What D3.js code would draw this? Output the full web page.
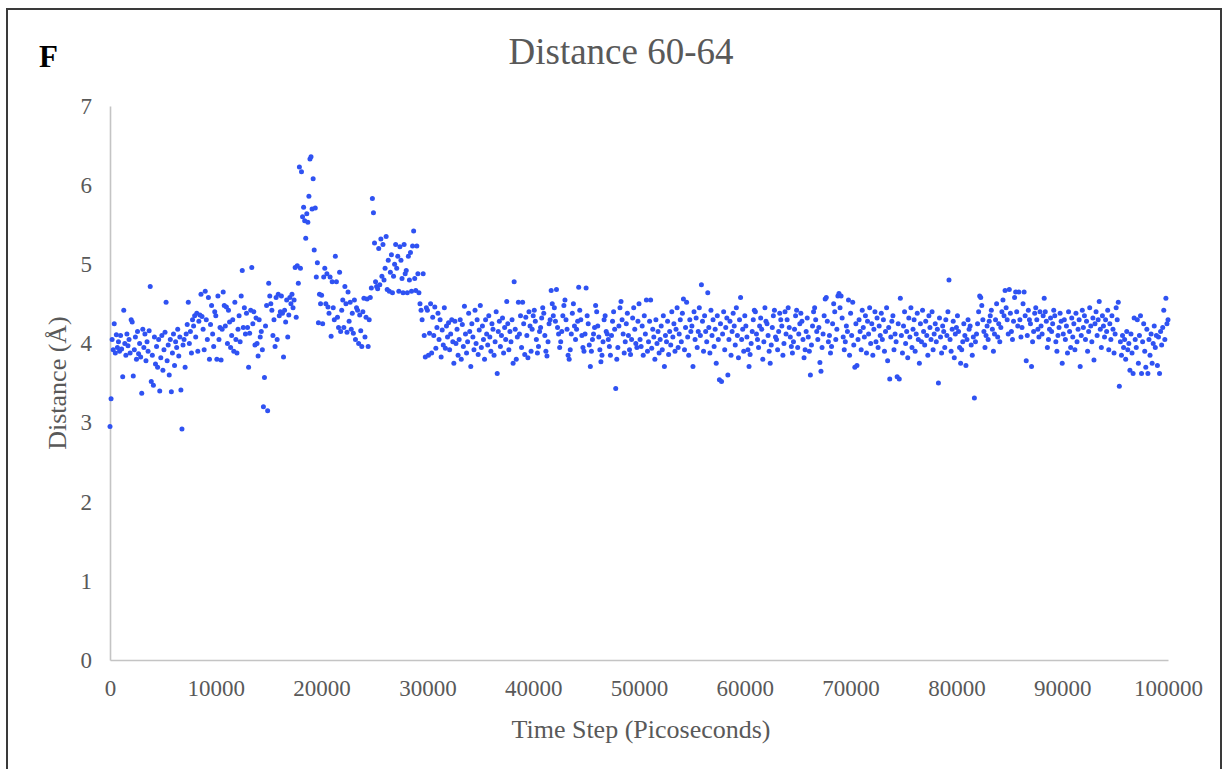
<!DOCTYPE html>
<html>
<head>
<meta charset="utf-8">
<script src="https://cdn.jsdelivr.net/npm/d3@7"></script>
<style>
  body { margin: 0; background: #fff; }
  text { font-family: "Liberation Serif", "Times New Roman", serif; }
</style>
</head>
<body>
<div id="chart"></div>
<script>
// distance samples, one every 100 ps, grouped per 10000 ps
var dist00 = [
  2.95,3.30,4.05,3.92,4.25,3.88,4.11,3.95,4.02,3.90,
  4.10,3.93,3.58,4.42,4.00,3.85,4.12,3.97,4.05,3.88,
  4.30,4.27,3.59,3.92,4.08,3.80,4.15,3.87,4.00,3.83,
  3.37,4.18,3.95,4.12,3.78,4.02,3.90,4.16,4.72,3.52,
  3.85,3.47,4.08,3.74,3.96,3.70,4.05,3.40,3.82,4.10,
  3.66,3.92,4.14,4.52,3.78,3.98,3.60,4.05,3.39,3.88,
  4.12,3.72,4.02,3.95,4.18,3.84,4.08,3.41,2.92,3.98,
  4.05,3.70,4.12,4.24,4.52,4.00,4.15,3.88,4.30,4.22,
  4.35,4.08,4.38,3.90,4.28,4.36,4.62,4.34,4.18,3.92,
  4.66,4.30,4.05,4.58,3.80,4.24,4.48,4.12,3.96,4.40];
var dist10 = [
  4.35,3.80,4.60,4.05,4.20,3.79,4.18,4.65,4.48,4.22,
  4.46,4.00,4.42,4.27,3.95,4.10,4.30,3.90,4.52,4.05,
  3.88,4.18,4.35,4.02,4.60,4.92,4.20,4.45,4.12,4.38,
  4.20,3.70,4.13,4.42,4.96,4.25,4.40,3.98,4.32,4.00,
  3.84,4.30,4.08,4.15,3.92,3.20,3.57,4.22,4.48,3.15,
  4.76,4.60,4.50,4.42,4.10,4.30,3.96,4.58,4.05,4.62,
  4.35,4.40,4.60,4.38,3.83,4.42,4.27,4.55,4.08,4.36,
  4.58,4.50,4.62,4.45,4.55,4.96,4.33,4.98,4.76,6.23,
  4.95,6.17,5.60,5.72,5.55,5.33,5.64,5.53,5.86,6.33,
  6.36,5.70,6.08,5.18,5.71,4.84,5.02,4.26,4.62,4.50];
var dist20 = [
  4.61,4.25,4.84,4.95,4.50,4.88,4.46,4.38,4.84,4.09,
  4.78,4.45,4.30,5.10,4.78,4.33,4.20,4.90,4.15,4.42,
  4.55,4.20,4.72,4.50,4.14,4.65,4.28,4.52,4.18,4.38,
  4.13,4.55,4.05,4.45,4.42,4.00,4.36,4.16,3.96,4.40,
  4.57,4.08,4.33,4.56,3.96,4.30,4.58,4.70,5.83,5.65,
  5.27,4.78,4.72,4.69,5.20,4.74,5.32,4.85,5.25,4.80,
  4.95,5.35,4.68,5.05,4.66,4.90,5.12,4.64,4.85,5.00,
  5.25,4.95,5.10,4.66,5.22,5.05,4.82,4.64,5.25,4.88,
  4.92,4.64,5.10,4.80,5.15,4.66,5.23,5.42,4.82,4.67,
  5.23,4.88,4.64,4.50,4.42,4.30,4.88,4.10,3.83,4.45];
var dist30 = [
  4.42,3.85,4.13,4.50,3.88,4.33,4.10,4.46,3.94,4.20,
  4.38,4.05,4.30,3.83,4.17,3.98,4.45,3.94,4.22,4.08,
  4.26,3.92,4.12,4.30,4.02,3.75,4.28,4.00,4.18,3.85,
  4.05,4.30,3.80,4.24,3.96,4.47,4.12,3.88,4.02,4.38,
  4.15,3.71,4.25,4.08,3.92,4.42,4.00,4.30,3.86,4.17,
  4.48,3.95,4.22,4.05,3.80,4.30,4.12,3.98,4.35,4.08,
  3.90,4.25,4.18,3.85,4.02,4.40,3.62,4.15,4.28,3.96,
  4.10,4.32,3.88,4.20,4.05,4.53,4.25,3.92,4.15,4.02,
  4.30,3.75,4.78,4.18,3.80,4.08,4.52,4.12,4.35,3.95,
  4.52,4.25,3.86,4.33,4.10,3.82,4.40,4.22,3.90,4.18];
var dist40 = [
  4.35,4.42,4.28,4.05,3.88,3.96,4.15,4.20,4.32,4.45,
  4.38,4.10,3.90,3.84,4.02,4.25,4.30,4.67,4.50,4.35,
  4.45,4.28,4.68,4.20,4.12,3.95,4.02,4.15,4.35,4.48,
  4.55,4.30,4.18,3.85,3.80,3.92,4.12,4.38,4.50,4.22,
  4.05,4.18,4.28,4.71,4.42,4.30,4.10,3.95,3.90,4.12,
  4.70,4.35,4.25,3.98,3.71,3.90,4.05,4.12,4.20,4.48,
  4.40,4.22,4.08,3.92,3.77,3.85,4.02,4.30,4.35,4.15,
  4.12,4.05,3.96,3.85,4.10,4.28,4.40,4.18,3.43,3.80,
  3.95,4.22,4.45,4.53,4.30,4.12,3.88,4.02,4.25,4.38,
  4.10,3.92,3.86,4.05,4.32,4.45,4.18,4.00,3.95,4.28];
var dist50 = [
  4.50,4.05,3.96,4.22,3.85,4.35,4.12,4.55,3.90,4.02,
  4.28,4.55,3.94,4.18,4.08,3.80,4.30,4.00,4.15,3.88,
  4.05,4.22,3.92,4.35,3.71,4.10,4.02,4.28,3.86,4.15,
  3.98,4.40,4.08,4.25,3.90,4.18,4.45,3.95,4.12,4.30,
  4.02,4.38,4.56,3.92,4.20,4.52,4.08,3.85,4.30,4.15,
  4.22,3.71,4.40,4.05,4.32,3.95,4.15,4.45,4.10,4.74,
  4.28,3.90,4.35,4.15,4.02,4.64,4.20,3.88,4.42,4.10,
  4.30,3.96,4.18,3.75,4.35,4.05,3.54,4.25,3.52,4.12,
  4.40,3.92,4.20,4.32,3.60,4.05,4.28,3.85,4.15,4.38,
  4.22,3.98,4.45,4.10,3.82,4.30,4.58,4.05,4.18,3.90];
var dist60 = [
  4.35,4.22,4.08,3.92,3.71,3.86,4.00,4.15,4.30,4.42,
  4.40,4.12,4.05,3.95,4.22,4.32,4.18,3.80,4.02,4.45,
  4.28,4.25,4.10,3.90,3.75,3.98,4.20,4.35,4.42,4.08,
  4.05,3.92,4.15,4.38,4.30,4.22,3.85,4.00,4.40,4.12,
  4.30,4.45,4.20,4.08,3.96,3.88,4.02,4.18,4.35,4.42,
  3.95,4.12,4.25,4.38,4.28,4.05,3.82,3.92,4.15,4.32,
  4.08,3.90,3.60,3.98,4.22,4.40,4.45,4.30,4.15,4.05,
  4.20,3.76,3.65,3.95,4.12,4.35,4.56,4.58,4.28,4.02,
  4.10,3.88,3.96,4.25,4.50,4.40,4.05,4.18,4.60,4.63,
  4.45,4.60,4.32,4.08,3.92,4.02,4.22,4.15,4.55,3.85];
var dist70 = [
  4.38,4.10,4.52,3.98,3.70,4.25,3.72,4.05,4.30,4.15,
  3.92,4.42,4.20,4.08,4.35,3.88,4.28,4.12,4.45,4.00,
  4.25,3.85,4.18,4.40,4.02,4.32,3.95,4.22,4.10,4.38,
  4.05,4.30,3.90,4.15,4.45,3.78,4.20,3.55,4.08,4.28,
  4.35,3.92,4.12,4.02,3.58,4.25,3.55,4.57,4.10,3.88,
  4.22,4.40,4.00,4.15,3.82,4.32,4.08,4.45,3.95,4.18,
  4.30,3.90,4.12,4.38,4.05,3.75,4.25,4.02,4.42,4.15,
  3.98,4.28,4.10,3.85,4.35,4.20,4.05,4.40,3.92,4.12,
  4.25,4.02,4.18,3.50,4.32,4.08,3.88,4.22,4.15,3.95,
  4.30,4.10,4.40,4.80,4.05,3.90,4.18,4.28,3.82,4.12];
var dist80 = [
  4.20,4.35,4.15,3.95,3.75,3.92,4.02,4.25,4.10,3.72,
  4.05,4.30,4.18,4.22,3.98,3.85,4.08,3.31,4.02,4.12,
  4.25,4.40,4.60,4.58,4.48,4.30,4.15,3.95,4.10,4.22,
  4.05,4.28,4.35,4.42,4.18,3.90,4.12,4.30,4.50,4.08,
  4.25,4.02,4.20,4.40,4.55,4.35,4.67,4.45,4.30,4.12,
  4.68,4.38,4.15,4.05,4.28,4.58,4.65,4.40,4.22,4.65,
  4.30,4.08,4.20,4.50,4.65,4.35,3.78,4.10,4.42,4.30,
  4.25,3.71,4.02,4.15,4.38,4.45,4.30,4.18,4.08,4.40,
  4.22,4.12,4.35,4.57,4.40,4.28,3.95,4.05,4.18,4.32,
  4.15,4.25,4.42,4.35,4.02,3.90,4.10,4.20,4.38,4.28];
var dist90 = [
  3.75,4.12,4.30,4.05,4.22,3.88,4.40,4.15,3.95,4.32,
  4.08,4.25,3.92,4.38,4.02,4.18,4.30,3.71,4.10,4.42,
  4.20,4.35,4.05,4.28,3.90,4.15,4.45,4.22,4.02,4.32,
  3.79,4.25,4.40,4.10,4.30,4.53,4.18,3.95,4.35,4.22,
  4.08,4.30,4.15,4.42,3.92,4.25,4.05,4.35,4.18,3.88,
  4.12,4.45,4.30,4.52,3.46,4.02,3.85,4.10,3.95,4.05,
  3.80,4.15,3.92,4.00,3.66,4.12,3.88,3.62,4.32,4.05,
  3.95,4.30,3.75,4.10,4.35,3.62,4.02,4.25,3.90,3.70,
  4.18,3.62,4.05,3.85,4.12,3.75,4.00,4.22,3.95,4.10,
  3.72,4.08,3.62,4.15,3.98,4.20,4.42,4.05,4.57,4.25];
var distLast = [4.30];

var sampleInterval = 100;
var xTicks = [0, 10000, 20000, 30000, 40000, 50000, 60000, 70000, 80000, 90000, 100000];
var yTicks = [0, 1, 2, 3, 4, 5, 6, 7];

var chartTitle = "Distance 60-64";
var panelLetter = "F";
var xTitle = "Time Step (Picoseconds)";
var yTitle = "Distance (\u00c5)";

var width = 1225, height = 769;
var margin = {left: 110, right: 57, top: 106, bottom: 109};

var allDist = [].concat(dist00, dist10, dist20, dist30, dist40, dist50, dist60, dist70, dist80, dist90, distLast);
var points = allDist.map(function(d, i) { return {t: i * sampleInterval, v: d}; });

var svg = d3.select('#chart').append('svg')
  .attr("width", width)
  .attr("height", height);

// frame round the panel
svg.append("rect")
  .attr("x", 7).attr("y", 9)
  .attr("width", 1214).attr("height", 780)
  .attr("fill", "none")
  .attr("stroke", "#3a3a3a")
  .attr("stroke-width", 2);

var x = d3.scaleLinear().domain([0, 100000]).range([margin.left, width - margin.right]);
var y = d3.scaleLinear().domain([0, 7]).range([height - margin.bottom, margin.top]);

// axes, no tick marks
var xAxis = d3.axisBottom(x).tickValues(xTicks).tickSize(0).tickPadding(20).tickFormat(d3.format("d"));
var yAxis = d3.axisLeft(y).tickValues(yTicks).tickSize(0).tickPadding(19).tickFormat(d3.format("d"));

var gx = svg.append("g")
  .attr("transform", "translate(0," + y(0) + ")")
  .call(xAxis);
var gy = svg.append("g")
  .attr("transform", "translate(" + x(0) + ",0)")
  .call(yAxis);

[gx, gy].forEach(function(g) {
  g.select(".domain").attr("stroke", "#c4c4c4").attr("stroke-width", 1.6);
  g.selectAll("text")
    .attr("fill", "#595959")
    .style("font-size", "23px")
    .style("font-family", "'Liberation Serif', 'Times New Roman', serif");
});
gy.selectAll("text").attr("dx", "1px");

svg.append("g").selectAll("circle")
  .data(points)
  .enter().append("circle")
    .attr("cx", function(d) { return x(d.t); })
    .attr("cy", function(d) { return y(d.v); })
    .attr("r", 2.5)
    .attr("fill", "#2f52f2");

svg.append("text")
  .attr("x", 621).attr("y", 64)
  .attr("text-anchor", "middle")
  .attr("fill", "#595959")
  .style("font-size", "37px")
  .text(chartTitle);

svg.append("text")
  .attr("x", 39).attr("y", 67)
  .attr("fill", "#000")
  .style("font-size", "31px")
  .style("font-weight", "bold")
  .text(panelLetter);

svg.append("text")
  .attr("x", 641).attr("y", 738)
  .attr("text-anchor", "middle")
  .attr("fill", "#595959")
  .style("font-size", "26px")
  .text(xTitle);

svg.append("text")
  .attr("transform", "translate(66,383) rotate(-90)")
  .attr("text-anchor", "middle")
  .attr("fill", "#595959")
  .style("font-size", "26px")
  .text(yTitle);
</script>
</body>
</html>
